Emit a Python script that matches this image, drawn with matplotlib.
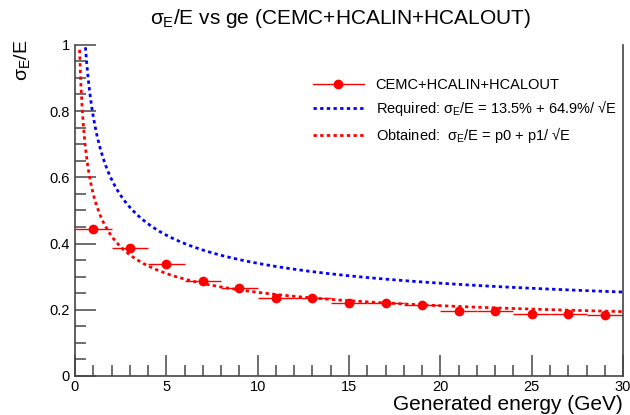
import numpy as np
import matplotlib
matplotlib.use("Agg")
import matplotlib.pyplot as plt
from matplotlib.ticker import MultipleLocator
from matplotlib.lines import Line2D

plt.rcParams['font.family'] = ['Liberation Sans', 'DejaVu Sans']
plt.rcParams['mathtext.fontset'] = 'custom'
plt.rcParams['mathtext.rm'] = 'Liberation Sans'
plt.rcParams['mathtext.it'] = 'Liberation Sans'

# measured points
energy = [1, 3, 5, 7, 9, 11, 13, 15, 17, 19, 21, 23, 25, 27, 29]
energy_err = [1] * 15
resolution = [0.443, 0.385, 0.337, 0.287, 0.265, 0.237, 0.235, 0.221,
              0.221, 0.213, 0.197, 0.195, 0.187, 0.187, 0.185]

# required: 13.5% + 64.9%/sqrt(E)
req_a = 0.135
req_b = 0.649
# obtained fit p0 + p1/sqrt(E)
p0 = 0.115
p1 = 0.435

fig = plt.figure(figsize=(6.3, 4.15), dpi=100)
ax = fig.add_axes([0.119, 0.094, 0.870, 0.798])

dot = (0, (1.2, 1.2))
e_req = np.linspace(0.5, 30, 400)
ax.plot(e_req, req_a + req_b / np.sqrt(e_req), color='blue', ls=dot, lw=2)
e_fit = np.linspace(0.25, 30, 400)
ax.plot(e_fit, p0 + p1 / np.sqrt(e_fit), color='red', ls=dot, lw=2)
ax.errorbar(energy, resolution, xerr=energy_err, fmt='o', color='red', ms=6,
            elinewidth=1, capsize=0)


def yfmt(v, pos):
    if abs(v) < 1e-6:
        return '0'
    if abs(v - 1) < 1e-6:
        return '1'
    return f'{v:.1f}'


ax.set_xlim(0, 30)
ax.set_ylim(0, 1)
ax.xaxis.set_major_locator(MultipleLocator(5))
ax.xaxis.set_minor_locator(MultipleLocator(1))
ax.yaxis.set_major_locator(MultipleLocator(0.2))
ax.yaxis.set_minor_locator(MultipleLocator(0.05))
ax.yaxis.set_major_formatter(plt.FuncFormatter(yfmt))
ax.tick_params(which='both', direction='in', labelsize=10.5, color='#555555')
ax.tick_params(which='major', length=15, width=1.2)
ax.tick_params(which='minor', length=8, width=1.2)
ax.tick_params(axis='x', pad=3)
ax.spines['top'].set_visible(False)
for s in ['left', 'bottom', 'right']:
    ax.spines[s].set_color('#444444')
    ax.spines[s].set_linewidth(1.2)

handles = [
    Line2D([], [], color='red', lw=1, marker='o', ms=6),
    Line2D([], [], color='blue', ls=dot, lw=2),
    Line2D([], [], color='red', ls=dot, lw=2),
]
labels = ['CEMC+HCALIN+HCALOUT',
          'Required: $\\sigma_{E}$/E = 13.5% + 64.9%/ √E',
          'Obtained:  $\\sigma_{E}$/E = p0 + p1/ √E']
ax.legend(handles, labels, loc='upper left', bbox_to_anchor=(0.41, 0.94), frameon=False,
          fontsize=10.5, handlelength=3.5, labelspacing=0.45)

fig.text(0.54, 0.955, r'$\sigma_{E}$/E vs ge (CEMC+HCALIN+HCALOUT)', ha='center', va='center', fontsize=15)
fig.text(0.035, 0.905, r'$\sigma_{E}$/E', rotation=90, ha='center', va='top', fontsize=14)
fig.text(0.988, 0.003, 'Generated energy (GeV)', ha='right', va='bottom', fontsize=15)

fig.savefig('out.png', dpi=100)
